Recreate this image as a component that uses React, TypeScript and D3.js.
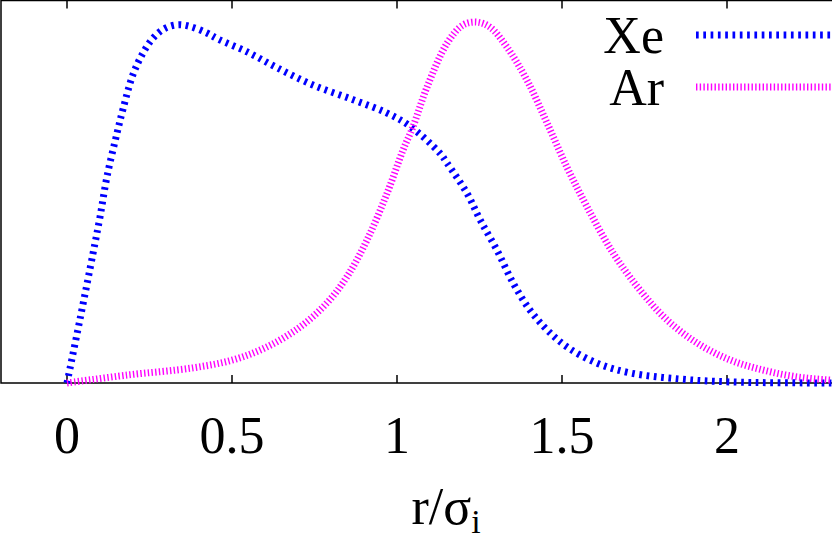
import React from "react";
import * as d3 from "d3";

// r/sigma_i values and normalised distributions
const xeR = [0, 0.039, 0.079, 0.1, 0.121, 0.152, 0.17, 0.2, 0.23, 0.261, 0.297, 0.336, 0.373, 0.424, 0.458, 0.545, 0.636, 0.745, 0.867, 0.97, 1.039, 1.13, 1.152, 1.212, 1.252, 1.303, 1.352, 1.403, 1.455, 1.515, 1.606, 1.706, 1.858, 2.009, 2.312, 2.5];
const xeP = [0, 0.175, 0.36, 0.46, 0.571, 0.694, 0.76, 0.855, 0.914, 0.956, 0.983, 0.993, 0.988, 0.97, 0.953, 0.918, 0.874, 0.826, 0.785, 0.748, 0.712, 0.637, 0.609, 0.526, 0.452, 0.368, 0.277, 0.202, 0.147, 0.1, 0.055, 0.028, 0.011, 0.003, 0, 0];

const arR = [0, 0.182, 0.382, 0.503, 0.606, 0.706, 0.788, 0.848, 0.909, 0.97, 1.018, 1.048, 1.091, 1.152, 1.2, 1.242, 1.282, 1.333, 1.394, 1.455, 1.515, 1.576, 1.655, 1.736, 1.818, 1.909, 2.009, 2.109, 2.212, 2.318, 2.5];
const arP = [0, 0.022, 0.042, 0.064, 0.1, 0.155, 0.222, 0.294, 0.396, 0.526, 0.645, 0.709, 0.82, 0.942, 0.992, 1.0, 0.986, 0.931, 0.839, 0.72, 0.598, 0.488, 0.36, 0.258, 0.175, 0.111, 0.064, 0.036, 0.017, 0.008, 0.002];

const xTicks = [0, 0.5, 1, 1.5, 2, 2.5];
const xTickLabels = ["0", "0.5", "1", "1.5", "2"];

const series = [
  { name: "Xe", r: xeR, p: xeP, color: "#0000ff", dash: "2.7 4.6" },
  { name: "Ar", r: arR, p: arP, color: "#ff00ff", dash: "1.4 2.3" },
];

const W = 832;
const H = 540;
const textStyle = { fontFamily: "Liberation Serif", fontSize: 52 };

const App = () => {
  const x = d3.scaleLinear().domain([-0.2, 2.5]).range([1, 892]);
  const y = d3.scaleLinear().domain([0, 1.06]).range([383, 0.5]);

  const line = d3
    .line<[number, number]>()
    .x((d) => x(d[0]))
    .y((d) => y(d[1]))
    .curve(d3.curveCatmullRom.alpha(0.5));

  return (
    <svg
      width={W}
      height={H}
      style={{ position: "absolute", left: 0, top: 0, background: "#fff" }}
    >
      <defs>
        <clipPath id="plotArea">
          <rect x={x(-0.2)} y={0} width={x(2.5) - x(-0.2)} height={y(0) + 4} />
        </clipPath>
      </defs>

      {/* frame */}
      <rect
        x={x(-0.2)}
        y={y(1.06)}
        width={x(2.5) - x(-0.2)}
        height={y(0) - y(1.06)}
        fill="none"
        stroke="#000"
        strokeWidth={1.5}
      />
      {xTicks.map((t, i) => (
        <g key={t}>
          <line x1={x(t)} x2={x(t)} y1={y(0)} y2={y(0) - 8} stroke="#000" strokeWidth={1.5} />
          <line x1={x(t)} x2={x(t)} y1={y(1.06)} y2={y(1.06) + 8} stroke="#000" strokeWidth={1.5} />
          {xTickLabels[i] && (
            <text x={x(t)} y={453} textAnchor="middle" style={textStyle}>
              {xTickLabels[i]}
            </text>
          )}
        </g>
      ))}

      {/* curves */}
      <g clipPath="url(#plotArea)">
        {series.map((s) => (
          <path
            key={s.name}
            d={line(s.r.map((r, i) => [r, s.p[i]] as [number, number])) || ""}
            fill="none"
            stroke={s.color}
            strokeWidth={7}
            strokeDasharray={s.dash}
          />
        ))}
      </g>

      {/* legend */}
      {series.map((s, i) => (
        <g key={s.name} transform={`translate(0, ${i * 52})`}>
          <text x={664} y={53} textAnchor="end" style={textStyle}>
            {s.name}
          </text>
          <line
            x1={696}
            x2={900}
            y1={35}
            y2={35}
            stroke={s.color}
            strokeWidth={7}
            strokeDasharray={s.dash}
          />
        </g>
      ))}

      {/* x axis label */}
      <text x={446} y={524} textAnchor="middle" style={textStyle}>
        r/σ
        <tspan style={{ fontSize: 34 }} dy={9}>
          i
        </tspan>
      </text>
    </svg>
  );
};

export default App;
